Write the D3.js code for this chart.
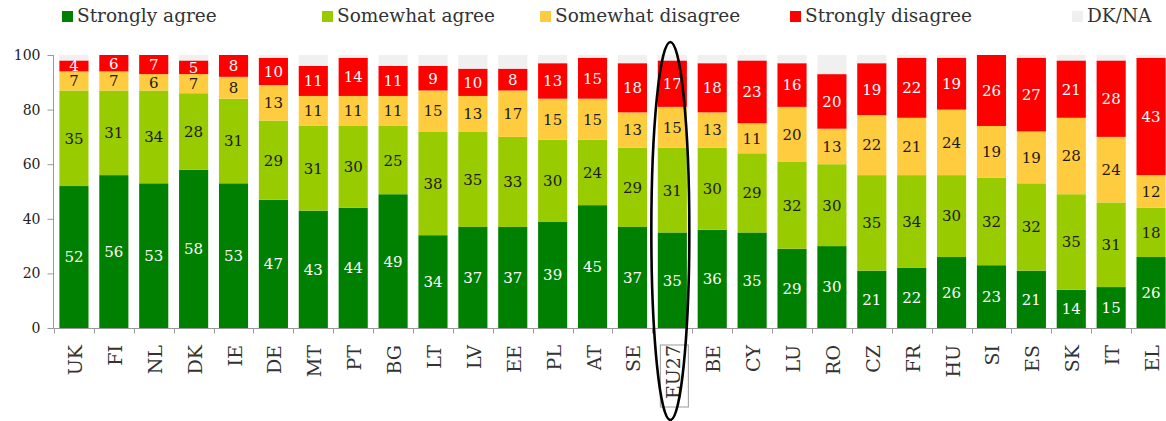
<!DOCTYPE html>
<html>
<head>
<meta charset="utf-8">
<script src="https://cdn.jsdelivr.net/npm/d3@7"></script>
<style>
  html, body { margin: 0; padding: 0; background: #fff; }
  svg { display: block; }
</style>
</head>
<body>
<svg id="chart" width="1166" height="421"></svg>
<script>
const countries = ["UK","FI","NL","DK","IE","DE","MT","PT","BG","LT","LV","EE","PL","AT","SE","EU27","BE","CY","LU","RO","CZ","FR","HU","SI","ES","SK","IT","EL"];
const stronglyAgree    = [52,56,53,58,53,47,43,44,49,34,37,37,39,45,37,35,36,35,29,30,21,22,26,23,21,14,15,26];
const somewhatAgree    = [35,31,34,28,31,29,31,30,25,38,35,33,30,24,29,31,30,29,32,30,35,34,30,32,32,35,31,18];
const somewhatDisagree = [7,7,6,7,8,13,11,11,11,15,13,17,15,15,13,15,13,11,20,13,22,21,24,19,19,28,24,12];
const stronglyDisagree = [4,6,7,5,8,10,11,14,11,9,10,8,13,15,18,17,18,23,16,20,19,22,19,26,27,21,28,43];
const dkna             = [2,0,0,2,0,1,4,1,4,4,5,5,3,1,3,2,3,2,3,7,3,1,1,0,1,2,2,1];
const seriesNames = ["Strongly agree","Somewhat agree","Somewhat disagree","Strongly disagree","DK/NA"];
const yTicks = [0,20,40,60,80,100];
const highlight = "EU27";

const colors = ["#008000","#99cc00","#ffcc40","#ff0000","#f0f0f0"];
const labelColors = ["#ffffff","#1a1a1a","#1a1a1a","#ffffff",null];
const FONT = "'DejaVu Serif', Georgia, serif";

const svg = d3.select("#chart");
const keys = ["sa","swa","swd","sd","dk"];
const rows = countries.map((c,i) => ({
  country: c, sa: stronglyAgree[i], swa: somewhatAgree[i], swd: somewhatDisagree[i],
  sd: stronglyDisagree[i], dk: dkna[i]
}));

const x = d3.scaleBand().domain(countries).range([54, 1171]).paddingInner(0.27).paddingOuter(0.135);
const y = d3.scaleLinear().domain([0,100]).range([328, 55]);

const stack = d3.stack().keys(keys)(rows);

// bars
const g = svg.append("g");
stack.forEach((layer, li) => {
  g.append("g").selectAll("rect").data(layer).join("rect")
    .attr("x", d => x(d.data.country))
    .attr("width", x.bandwidth())
    .attr("y", d => y(Math.min(d[1],100)))
    .attr("height", d => Math.max(0, y(d[0]) - y(Math.min(d[1],100))))
    .attr("fill", colors[li]);
});
// labels
stack.forEach((layer, li) => {
  if (!labelColors[li]) return;
  g.append("g").selectAll("text").data(layer).join("text")
    .attr("x", d => x(d.data.country) + x.bandwidth()/2)
    .attr("y", d => (y(d[0]) + y(d[1]))/2)
    .attr("dy", "0.36em")
    .attr("text-anchor", "middle")
    .attr("font-family", FONT)
    .attr("font-size", 15)
    .attr("fill", labelColors[li])
    .text(d => d[1]-d[0]);
});

// y axis
const yAxis = svg.append("g").attr("transform", "translate(53.5,0)")
  .call(d3.axisLeft(y).tickValues(yTicks).tickSize(6).tickPadding(7));
yAxis.select(".domain").attr("stroke", "#999").attr("d", "M0," + y(100) + "V" + (y(0)+0.5));
yAxis.selectAll(".tick line").attr("stroke", "#999");
yAxis.selectAll(".tick text").attr("font-family", FONT).attr("font-size", 14).attr("fill", "#222");

// x axis baseline + ticks at band boundaries
const step = x.step();
const xBase = svg.append("g").attr("transform", "translate(0," + (y(0)+0.5) + ")");
xBase.append("line").attr("x1", 53.5).attr("x2", 1166).attr("stroke", "#999");
xBase.selectAll("line.tk").data(countries).join("line").attr("class","tk")
  .attr("x1", d => Math.round(x(d) - step*x.paddingInner()/2) + 0.5)
  .attr("x2", d => Math.round(x(d) - step*x.paddingInner()/2) + 0.5)
  .attr("y1", 0).attr("y2", 5).attr("stroke", "#999");

// x labels
const xl = svg.append("g");
xl.selectAll("text").data(countries).join("text")
  .attr("transform", d => "translate(" + (x(d) + x.bandwidth()/2 + 8) + ",345) rotate(-90)")
  .attr("text-anchor", "end")
  .attr("font-family", FONT)
  .attr("font-size", 19)
  .attr("fill", "#333")
  .text(d => d);

// box around highlighted label
const hx = x(highlight) + x.bandwidth()/2;
svg.append("rect")
  .attr("x", hx - 12).attr("y", 345)
  .attr("width", 28).attr("height", 62)
  .attr("fill", "none").attr("stroke", "#999").attr("stroke-width", 1);

// ellipse
svg.append("ellipse")
  .attr("cx", hx - 2).attr("cy", 231)
  .attr("rx", 19).attr("ry", 189)
  .attr("fill", "none").attr("stroke", "#000").attr("stroke-width", 2.6);

// legend
const legendX = [62, 322, 540, 790, 1072];
const leg = svg.append("g");
seriesNames.forEach((name, i) => {
  const lx = legendX[i];
  leg.append("rect").attr("x", lx).attr("y", 11).attr("width", 11).attr("height", 11).attr("fill", colors[i]);
  leg.append("text").attr("x", lx + 15).attr("y", 22)
    .attr("font-family", FONT).attr("font-size", 18.5).attr("fill", "#333").text(name);
});
</script>
</body>
</html>
